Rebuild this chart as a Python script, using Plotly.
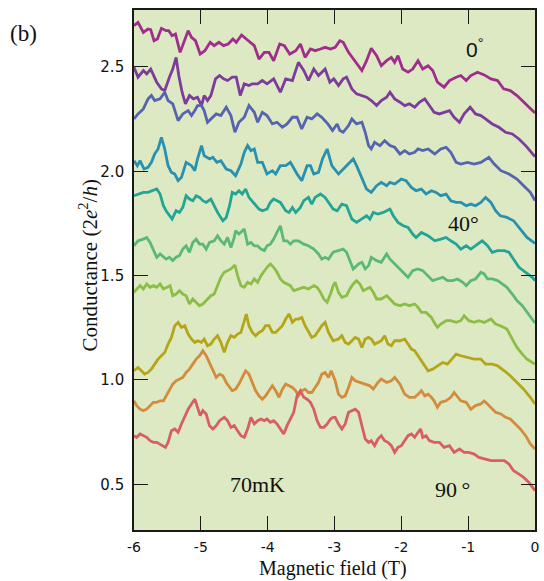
import plotly.graph_objects as go

# Conductance traces (field in T, conductance in 2e^2/h), from 0 deg (top) to 90 deg (bottom)
C1 = [(-6.00,2.698),(-5.94,2.714),(-5.86,2.666),(-5.79,2.682),(-5.75,2.679),(-5.70,2.626),(-5.65,2.634),(-5.59,2.685),(-5.52,2.674),(-5.48,2.674),(-5.43,2.650),(-5.38,2.658),(-5.31,2.570),(-5.26,2.618),(-5.19,2.674),(-5.14,2.642),(-5.08,2.626),(-5.01,2.562),(-4.94,2.578),(-4.86,2.618),(-4.80,2.602),(-4.73,2.618),(-4.66,2.602),(-4.59,2.610),(-4.52,2.634),(-4.47,2.618),(-4.39,2.653),(-4.32,2.634),(-4.20,2.602),(-4.13,2.538),(-4.05,2.570),(-3.98,2.570),(-3.91,2.530),(-3.82,2.610),(-3.75,2.602),(-3.67,2.562),(-3.58,2.578),(-3.51,2.610),(-3.44,2.546),(-3.36,2.586),(-3.29,2.578),(-3.21,2.586),(-3.14,2.594),(-3.06,2.586),(-2.99,2.594),(-2.92,2.626),(-2.87,2.618),(-2.79,2.570),(-2.72,2.538),(-2.64,2.506),(-2.59,2.483),(-2.52,2.530),(-2.45,2.590),(-2.37,2.554),(-2.30,2.506),(-2.22,2.530),(-2.15,2.546),(-2.10,2.522),(-2.05,2.554),(-1.98,2.490),(-1.90,2.475),(-1.83,2.490),(-1.75,2.530),(-1.68,2.490),(-1.60,2.506),(-1.53,2.483),(-1.46,2.427),(-1.36,2.403),(-1.28,2.435),(-1.18,2.451),(-1.11,2.459),(-1.03,2.435),(-0.96,2.459),(-0.86,2.475),(-0.76,2.462),(-0.66,2.443),(-0.56,2.435),(-0.47,2.395),(-0.37,2.387),(-0.27,2.363),(-0.17,2.331),(-0.05,2.291),(0.0,2.28)]
C2 = [(-6.00,2.499),(-5.94,2.451),(-5.86,2.483),(-5.81,2.467),(-5.75,2.490),(-5.66,2.427),(-5.59,2.395),(-5.54,2.387),(-5.47,2.451),(-5.42,2.490),(-5.37,2.546),(-5.33,2.459),(-5.28,2.379),(-5.23,2.323),(-5.17,2.363),(-5.11,2.347),(-5.05,2.355),(-4.99,2.315),(-4.95,2.363),(-4.90,2.339),(-4.85,2.363),(-4.78,2.443),(-4.72,2.459),(-4.66,2.443),(-4.60,2.435),(-4.53,2.451),(-4.47,2.451),(-4.41,2.363),(-4.35,2.419),(-4.28,2.411),(-4.23,2.419),(-4.15,2.419),(-4.08,2.435),(-4.01,2.419),(-3.91,2.443),(-3.81,2.379),(-3.73,2.443),(-3.63,2.435),(-3.54,2.522),(-3.46,2.483),(-3.39,2.435),(-3.31,2.490),(-3.24,2.459),(-3.14,2.490),(-3.07,2.427),(-3.01,2.443),(-2.94,2.411),(-2.87,2.443),(-2.82,2.451),(-2.74,2.395),(-2.67,2.371),(-2.59,2.363),(-2.52,2.355),(-2.45,2.339),(-2.37,2.315),(-2.30,2.339),(-2.22,2.355),(-2.17,2.379),(-2.10,2.347),(-2.02,2.331),(-1.95,2.315),(-1.88,2.323),(-1.80,2.307),(-1.73,2.331),(-1.65,2.347),(-1.58,2.315),(-1.51,2.283),(-1.43,2.275),(-1.36,2.283),(-1.28,2.291),(-1.21,2.259),(-1.13,2.235),(-1.06,2.275),(-0.97,2.307),(-0.89,2.275),(-0.81,2.267),(-0.74,2.251),(-0.64,2.227),(-0.54,2.211),(-0.44,2.187),(-0.34,2.179),(-0.24,2.155),(-0.14,2.123),(-0.02,2.075),(0.0,2.07)]
C3 = [(-6.00,2.251),(-5.94,2.275),(-5.86,2.299),(-5.79,2.347),(-5.74,2.363),(-5.69,2.339),(-5.61,2.347),(-5.54,2.379),(-5.49,2.339),(-5.42,2.323),(-5.34,2.243),(-5.27,2.275),(-5.19,2.291),(-5.14,2.267),(-5.09,2.291),(-5.05,2.315),(-4.99,2.315),(-4.95,2.291),(-4.90,2.235),(-4.85,2.251),(-4.77,2.275),(-4.70,2.267),(-4.62,2.307),(-4.55,2.267),(-4.49,2.187),(-4.43,2.235),(-4.35,2.259),(-4.28,2.315),(-4.20,2.283),(-4.15,2.235),(-4.08,2.283),(-4.01,2.267),(-3.93,2.227),(-3.86,2.235),(-3.78,2.211),(-3.71,2.227),(-3.63,2.259),(-3.56,2.259),(-3.49,2.203),(-3.41,2.259),(-3.34,2.251),(-3.26,2.275),(-3.19,2.259),(-3.10,2.227),(-3.03,2.195),(-2.96,2.227),(-2.92,2.195),(-2.87,2.187),(-2.79,2.219),(-2.74,2.251),(-2.67,2.227),(-2.59,2.235),(-2.54,2.187),(-2.49,2.123),(-2.45,2.107),(-2.40,2.139),(-2.32,2.123),(-2.25,2.147),(-2.17,2.123),(-2.10,2.115),(-2.02,2.083),(-1.95,2.099),(-1.88,2.083),(-1.80,2.091),(-1.75,2.107),(-1.68,2.099),(-1.60,2.107),(-1.50,2.083),(-1.41,2.107),(-1.33,2.115),(-1.26,2.091),(-1.18,2.043),(-1.11,2.035),(-1.01,2.043),(-0.91,2.035),(-0.81,2.043),(-0.74,2.059),(-0.69,2.067),(-0.61,2.035),(-0.51,2.003),(-0.39,1.987),(-0.27,1.963),(-0.17,1.931),(-0.07,1.899),(0.0,1.86)]
C4 = [(-6.00,2.051),(-5.95,2.027),(-5.91,2.051),(-5.85,2.011),(-5.79,2.019),(-5.74,2.043),(-5.69,2.083),(-5.64,2.107),(-5.59,2.163),(-5.54,2.107),(-5.49,2.027),(-5.44,1.995),(-5.39,1.987),(-5.34,1.955),(-5.29,1.971),(-5.22,2.043),(-5.14,2.027),(-5.09,2.003),(-5.05,2.059),(-4.99,2.123),(-4.95,2.075),(-4.87,2.059),(-4.82,2.067),(-4.76,2.043),(-4.70,2.051),(-4.62,2.011),(-4.55,2.003),(-4.48,1.979),(-4.40,2.035),(-4.35,2.091),(-4.30,2.123),(-4.25,2.099),(-4.20,2.107),(-4.15,2.043),(-4.08,2.043),(-4.01,1.987),(-3.93,2.003),(-3.88,1.987),(-3.81,2.027),(-3.73,2.027),(-3.66,2.043),(-3.61,2.011),(-3.56,1.987),(-3.49,1.955),(-3.41,2.027),(-3.36,2.027),(-3.31,1.987),(-3.24,1.995),(-3.18,2.059),(-3.11,2.107),(-3.04,2.027),(-2.94,1.987),(-2.87,2.011),(-2.79,2.035),(-2.72,2.059),(-2.67,2.027),(-2.59,1.963),(-2.52,1.915),(-2.45,1.899),(-2.37,1.931),(-2.30,1.947),(-2.22,1.931),(-2.17,1.947),(-2.10,1.939),(-2.00,1.963),(-1.93,1.955),(-1.85,1.923),(-1.78,1.907),(-1.70,1.915),(-1.63,1.891),(-1.55,1.907),(-1.48,1.899),(-1.41,1.883),(-1.33,1.891),(-1.26,1.859),(-1.18,1.851),(-1.11,1.851),(-1.03,1.835),(-0.96,1.843),(-0.89,1.835),(-0.81,1.851),(-0.74,1.875),(-0.66,1.851),(-0.59,1.811),(-0.52,1.787),(-0.42,1.779),(-0.32,1.763),(-0.22,1.723),(-0.12,1.683),(-0.02,1.659),(0.0,1.655)]
C5 = [(-6.00,1.883),(-5.94,1.891),(-5.86,1.899),(-5.79,1.899),(-5.71,1.907),(-5.66,1.915),(-5.61,1.891),(-5.56,1.835),(-5.52,1.811),(-5.47,1.787),(-5.43,1.771),(-5.37,1.811),(-5.32,1.803),(-5.27,1.827),(-5.22,1.883),(-5.17,1.867),(-5.12,1.859),(-5.07,1.883),(-5.02,1.875),(-4.97,1.859),(-4.92,1.851),(-4.85,1.867),(-4.80,1.835),(-4.75,1.803),(-4.67,1.763),(-4.62,1.779),(-4.57,1.835),(-4.53,1.899),(-4.48,1.891),(-4.43,1.907),(-4.38,1.891),(-4.33,1.915),(-4.28,1.875),(-4.20,1.843),(-4.13,1.819),(-4.08,1.811),(-4.01,1.819),(-3.96,1.851),(-3.91,1.867),(-3.86,1.859),(-3.81,1.851),(-3.73,1.811),(-3.68,1.803),(-3.63,1.827),(-3.58,1.803),(-3.51,1.827),(-3.46,1.859),(-3.39,1.875),(-3.34,1.843),(-3.29,1.875),(-3.21,1.891),(-3.14,1.875),(-3.09,1.851),(-3.02,1.819),(-2.96,1.811),(-2.89,1.843),(-2.82,1.835),(-2.74,1.771),(-2.67,1.755),(-2.59,1.771),(-2.52,1.787),(-2.47,1.771),(-2.42,1.803),(-2.35,1.795),(-2.27,1.803),(-2.17,1.819),(-2.12,1.787),(-2.05,1.755),(-1.97,1.739),(-1.90,1.731),(-1.83,1.699),(-1.78,1.683),(-1.70,1.707),(-1.60,1.691),(-1.50,1.667),(-1.41,1.675),(-1.33,1.683),(-1.26,1.667),(-1.18,1.651),(-1.11,1.627),(-1.03,1.643),(-0.96,1.627),(-0.89,1.643),(-0.79,1.667),(-0.71,1.643),(-0.64,1.612),(-0.56,1.620),(-0.46,1.620),(-0.39,1.612),(-0.32,1.579),(-0.24,1.540),(-0.14,1.516),(-0.04,1.492),(0.0,1.476)]
C6 = [(-6.00,1.643),(-5.94,1.667),(-5.86,1.675),(-5.81,1.683),(-5.76,1.659),(-5.71,1.620),(-5.66,1.588),(-5.61,1.604),(-5.56,1.588),(-5.52,1.579),(-5.47,1.588),(-5.42,1.572),(-5.37,1.588),(-5.32,1.596),(-5.27,1.627),(-5.22,1.643),(-5.17,1.612),(-5.12,1.659),(-5.07,1.675),(-5.02,1.651),(-4.97,1.651),(-4.92,1.627),(-4.87,1.659),(-4.80,1.667),(-4.75,1.691),(-4.70,1.667),(-4.65,1.651),(-4.60,1.683),(-4.55,1.635),(-4.50,1.683),(-4.48,1.715),(-4.43,1.699),(-4.35,1.723),(-4.30,1.651),(-4.25,1.659),(-4.20,1.643),(-4.15,1.643),(-4.10,1.627),(-4.05,1.620),(-4.01,1.643),(-3.96,1.651),(-3.91,1.675),(-3.86,1.707),(-3.81,1.739),(-3.76,1.667),(-3.71,1.667),(-3.66,1.651),(-3.61,1.667),(-3.54,1.667),(-3.46,1.651),(-3.39,1.643),(-3.31,1.627),(-3.24,1.604),(-3.19,1.579),(-3.14,1.588),(-3.09,1.579),(-3.02,1.612),(-2.94,1.620),(-2.87,1.627),(-2.82,1.612),(-2.77,1.572),(-2.72,1.532),(-2.64,1.556),(-2.59,1.564),(-2.54,1.532),(-2.49,1.548),(-2.45,1.588),(-2.37,1.572),(-2.30,1.564),(-2.22,1.604),(-2.17,1.579),(-2.10,1.556),(-2.02,1.532),(-1.95,1.508),(-1.90,1.492),(-1.83,1.524),(-1.75,1.532),(-1.68,1.524),(-1.60,1.500),(-1.53,1.476),(-1.46,1.484),(-1.38,1.492),(-1.31,1.476),(-1.23,1.476),(-1.16,1.484),(-1.08,1.468),(-1.03,1.452),(-0.96,1.476),(-0.89,1.484),(-0.81,1.516),(-0.76,1.508),(-0.71,1.484),(-0.64,1.484),(-0.56,1.476),(-0.49,1.460),(-0.42,1.444),(-0.34,1.412),(-0.27,1.380),(-0.19,1.356),(-0.12,1.324),(-0.04,1.292),(0.0,1.273)]
C7 = [(-6.00,1.420),(-5.96,1.436),(-5.91,1.452),(-5.86,1.436),(-5.81,1.460),(-5.76,1.444),(-5.71,1.452),(-5.66,1.444),(-5.61,1.460),(-5.56,1.436),(-5.52,1.444),(-5.46,1.452),(-5.42,1.404),(-5.37,1.412),(-5.32,1.428),(-5.27,1.412),(-5.22,1.404),(-5.17,1.364),(-5.12,1.388),(-5.07,1.372),(-5.02,1.356),(-4.97,1.364),(-4.90,1.388),(-4.85,1.404),(-4.80,1.412),(-4.75,1.452),(-4.70,1.492),(-4.65,1.516),(-4.60,1.524),(-4.55,1.532),(-4.49,1.551),(-4.45,1.500),(-4.40,1.452),(-4.35,1.444),(-4.30,1.468),(-4.25,1.460),(-4.20,1.484),(-4.15,1.468),(-4.10,1.500),(-4.05,1.524),(-4.01,1.540),(-3.96,1.556),(-3.91,1.540),(-3.86,1.516),(-3.81,1.484),(-3.76,1.468),(-3.71,1.460),(-3.66,1.452),(-3.61,1.428),(-3.54,1.436),(-3.46,1.444),(-3.39,1.436),(-3.31,1.452),(-3.26,1.444),(-3.21,1.420),(-3.16,1.388),(-3.11,1.372),(-3.06,1.412),(-3.02,1.452),(-2.99,1.468),(-2.94,1.420),(-2.89,1.396),(-2.82,1.404),(-2.77,1.436),(-2.72,1.460),(-2.67,1.476),(-2.62,1.460),(-2.57,1.428),(-2.52,1.436),(-2.47,1.444),(-2.42,1.420),(-2.37,1.388),(-2.30,1.388),(-2.22,1.404),(-2.17,1.388),(-2.10,1.364),(-2.02,1.356),(-1.95,1.364),(-1.88,1.356),(-1.80,1.364),(-1.75,1.348),(-1.70,1.324),(-1.63,1.324),(-1.55,1.300),(-1.51,1.276),(-1.46,1.252),(-1.41,1.268),(-1.33,1.284),(-1.26,1.284),(-1.18,1.276),(-1.11,1.284),(-1.06,1.308),(-0.99,1.284),(-0.91,1.276),(-0.84,1.284),(-0.76,1.276),(-0.66,1.292),(-0.59,1.268),(-0.52,1.260),(-0.42,1.244),(-0.34,1.196),(-0.27,1.156),(-0.19,1.124),(-0.12,1.100),(-0.04,1.084),(0.0,1.076)]
C8 = [(-6.00,1.044),(-5.94,1.060),(-5.89,1.044),(-5.84,1.028),(-5.79,1.036),(-5.74,1.052),(-5.69,1.076),(-5.64,1.100),(-5.59,1.116),(-5.54,1.132),(-5.49,1.172),(-5.44,1.204),(-5.39,1.260),(-5.34,1.276),(-5.29,1.252),(-5.24,1.260),(-5.19,1.220),(-5.14,1.196),(-5.09,1.180),(-5.05,1.188),(-4.99,1.180),(-4.95,1.196),(-4.90,1.164),(-4.85,1.172),(-4.80,1.196),(-4.75,1.212),(-4.70,1.180),(-4.65,1.132),(-4.60,1.180),(-4.55,1.212),(-4.50,1.204),(-4.45,1.220),(-4.40,1.228),(-4.35,1.292),(-4.32,1.316),(-4.28,1.260),(-4.23,1.228),(-4.18,1.212),(-4.13,1.228),(-4.08,1.236),(-4.03,1.260),(-3.98,1.260),(-3.93,1.228),(-3.88,1.228),(-3.83,1.244),(-3.78,1.260),(-3.73,1.292),(-3.68,1.316),(-3.63,1.276),(-3.58,1.292),(-3.54,1.292),(-3.49,1.300),(-3.44,1.260),(-3.39,1.228),(-3.34,1.204),(-3.29,1.212),(-3.24,1.236),(-3.19,1.260),(-3.14,1.276),(-3.09,1.228),(-3.02,1.188),(-2.94,1.196),(-2.89,1.212),(-2.84,1.180),(-2.79,1.172),(-2.74,1.188),(-2.69,1.204),(-2.64,1.196),(-2.59,1.156),(-2.54,1.196),(-2.49,1.204),(-2.45,1.196),(-2.40,1.172),(-2.35,1.180),(-2.30,1.188),(-2.25,1.212),(-2.20,1.172),(-2.15,1.164),(-2.10,1.188),(-2.02,1.188),(-1.95,1.196),(-1.90,1.172),(-1.85,1.148),(-1.80,1.140),(-1.75,1.116),(-1.68,1.084),(-1.60,1.044),(-1.53,1.052),(-1.46,1.068),(-1.38,1.084),(-1.31,1.076),(-1.23,1.108),(-1.18,1.124),(-1.11,1.116),(-1.01,1.108),(-0.91,1.100),(-0.81,1.100),(-0.74,1.076),(-0.64,1.076),(-0.56,1.068),(-0.46,1.044),(-0.37,1.020),(-0.27,0.988),(-0.17,0.956),(-0.07,0.917),(0.0,0.885)]
C9 = [(-6.00,0.900),(-5.96,0.877),(-5.91,0.860),(-5.86,0.853),(-5.81,0.860),(-5.76,0.877),(-5.71,0.893),(-5.66,0.893),(-5.61,0.900),(-5.56,0.900),(-5.52,0.924),(-5.47,0.956),(-5.42,0.980),(-5.37,0.996),(-5.32,1.004),(-5.27,1.012),(-5.22,1.036),(-5.17,1.052),(-5.12,1.076),(-5.07,1.100),(-5.02,1.116),(-4.97,1.140),(-4.92,1.116),(-4.87,1.084),(-4.82,1.044),(-4.77,1.012),(-4.72,1.028),(-4.67,1.020),(-4.62,0.988),(-4.57,0.964),(-4.53,0.948),(-4.48,0.956),(-4.43,0.980),(-4.38,1.012),(-4.33,1.044),(-4.28,1.028),(-4.23,0.988),(-4.18,0.948),(-4.13,0.924),(-4.08,0.908),(-4.03,0.924),(-3.98,0.948),(-3.93,0.972),(-3.88,0.948),(-3.83,0.917),(-3.78,0.956),(-3.73,0.980),(-3.68,0.972),(-3.63,0.964),(-3.58,0.948),(-3.54,0.924),(-3.49,0.948),(-3.44,0.956),(-3.39,0.940),(-3.34,0.940),(-3.29,0.964),(-3.24,0.988),(-3.19,1.028),(-3.14,1.036),(-3.09,1.012),(-3.05,1.044),(-2.99,0.996),(-2.94,0.932),(-2.89,0.917),(-2.84,0.924),(-2.79,0.964),(-2.74,1.012),(-2.69,0.996),(-2.62,0.988),(-2.54,0.980),(-2.47,0.972),(-2.42,0.956),(-2.35,0.988),(-2.30,1.004),(-2.22,0.988),(-2.15,0.996),(-2.10,1.012),(-2.02,0.980),(-1.95,0.932),(-1.88,0.917),(-1.80,0.917),(-1.75,0.932),(-1.70,0.948),(-1.65,0.924),(-1.60,0.932),(-1.55,0.917),(-1.51,0.900),(-1.46,0.869),(-1.41,0.893),(-1.33,0.900),(-1.26,0.917),(-1.21,0.940),(-1.16,0.917),(-1.11,0.900),(-1.03,0.893),(-0.96,0.860),(-0.89,0.877),(-0.81,0.885),(-0.76,0.900),(-0.71,0.885),(-0.66,0.869),(-0.59,0.845),(-0.51,0.837),(-0.44,0.821),(-0.37,0.813),(-0.29,0.789),(-0.22,0.765),(-0.14,0.733),(-0.07,0.693),(0.0,0.669)]
C10 = [(-6.00,0.733),(-5.96,0.725),(-5.91,0.741),(-5.86,0.733),(-5.81,0.725),(-5.76,0.709),(-5.71,0.701),(-5.66,0.701),(-5.61,0.693),(-5.56,0.685),(-5.53,0.677),(-5.49,0.701),(-5.44,0.757),(-5.39,0.765),(-5.34,0.749),(-5.29,0.789),(-5.24,0.829),(-5.19,0.860),(-5.14,0.885),(-5.09,0.908),(-5.05,0.869),(-5.01,0.829),(-4.97,0.853),(-4.92,0.837),(-4.87,0.781),(-4.82,0.765),(-4.77,0.781),(-4.72,0.805),(-4.65,0.821),(-4.60,0.805),(-4.55,0.773),(-4.50,0.781),(-4.45,0.757),(-4.40,0.733),(-4.35,0.725),(-4.30,0.765),(-4.25,0.821),(-4.20,0.789),(-4.15,0.805),(-4.10,0.813),(-4.05,0.805),(-4.01,0.813),(-3.96,0.797),(-3.91,0.805),(-3.86,0.789),(-3.81,0.765),(-3.76,0.741),(-3.71,0.781),(-3.66,0.813),(-3.61,0.845),(-3.56,0.924),(-3.51,0.948),(-3.46,0.917),(-3.41,0.908),(-3.36,0.893),(-3.31,0.860),(-3.26,0.805),(-3.21,0.773),(-3.16,0.773),(-3.11,0.789),(-3.06,0.813),(-3.02,0.821),(-2.99,0.821),(-2.94,0.789),(-2.89,0.765),(-2.84,0.789),(-2.79,0.845),(-2.74,0.853),(-2.69,0.860),(-2.64,0.845),(-2.59,0.781),(-2.54,0.717),(-2.49,0.701),(-2.45,0.709),(-2.40,0.685),(-2.35,0.717),(-2.30,0.733),(-2.25,0.709),(-2.20,0.701),(-2.15,0.685),(-2.10,0.653),(-2.05,0.677),(-2.00,0.685),(-1.95,0.709),(-1.90,0.733),(-1.85,0.741),(-1.80,0.725),(-1.75,0.749),(-1.71,0.765),(-1.68,0.725),(-1.63,0.733),(-1.58,0.709),(-1.51,0.701),(-1.43,0.701),(-1.36,0.677),(-1.28,0.685),(-1.21,0.653),(-1.13,0.669),(-1.06,0.653),(-0.99,0.653),(-0.91,0.645),(-0.84,0.629),(-0.76,0.621),(-0.66,0.613),(-0.56,0.613),(-0.46,0.613),(-0.39,0.597),(-0.32,0.565),(-0.24,0.549),(-0.17,0.533),(-0.09,0.509),(-0.02,0.477),(0.0,0.47)]

CURVES = [C1, C2, C3, C4, C5, C6, C7, C8, C9, C10]
COLORS = ["#A02D8C", "#7D3C9B", "#5564AF", "#2891AF", "#23A596",
          "#5AB978", "#8CBE46", "#B4A519", "#D28C3C", "#D75F64"]

X_TICKS = [-6, -5, -4, -3, -2, -1, 0]
Y_TICKS = [0.5, 1.0, 1.5, 2.0, 2.5]

fig = go.Figure()
for pts, col in zip(CURVES, COLORS):
    fig.add_trace(go.Scatter(
        x=[p[0] for p in pts], y=[p[1] for p in pts], mode="lines",
        line=dict(color=col, width=2.8), showlegend=False, hoverinfo="skip"))

serif = "Liberation Serif, Times New Roman, serif"
sans = "DejaVu Sans, Arial, sans-serif"

axis_common = dict(showline=True, linecolor="#1a1a1a", linewidth=1.6, mirror="ticks",
                   ticks="inside", ticklen=14, tickwidth=1.4, tickcolor="#1a1a1a",
                   showgrid=False, zeroline=False)

fig.update_xaxes(range=[-6, 0], tickvals=X_TICKS, ticktext=[str(v) for v in X_TICKS],
                 ticklabelstandoff=3, tickfont=dict(family=sans, size=14, color="#111"),
                 **axis_common)
fig.update_yaxes(range=[0.281, 2.773], tickvals=Y_TICKS, ticktext=[f"{v:.1f}" for v in Y_TICKS],
                 ticklabelstandoff=5, tickfont=dict(family=sans, size=15, color="#111"),
                 **axis_common)

ann = []
ann.append(dict(xref="paper", yref="paper", x=0.496, y=-0.074, text="Magnetic field (T)",
                showarrow=False, xanchor="center", yanchor="middle",
                font=dict(family=serif, size=20, color="#111")))
ann.append(dict(xref="paper", yref="paper", x=-0.1136, y=0.5096,
                text="Conductance (2<i>e</i><sup>2</sup>/<i>h</i>)", textangle=-90,
                showarrow=False, xanchor="center", yanchor="middle",
                font=dict(family=serif, size=21, color="#111")))
ann.append(dict(xref="paper", yref="paper", x=-0.2765, y=0.955, text="(b)",
                showarrow=False, xanchor="center", yanchor="middle",
                font=dict(family=serif, size=23, color="#111")))
ann.append(dict(xref="x", yref="y", x=-0.896, y=2.59, text="0<sup>°</sup>",
                showarrow=False, xanchor="center", yanchor="middle",
                font=dict(family="Liberation Sans, Arial, sans-serif", size=21, color="#111")))
ann.append(dict(xref="x", yref="y", x=-1.074, y=1.752, text="40°",
                showarrow=False, xanchor="center", yanchor="middle",
                font=dict(family=serif, size=22, color="#111")))
ann.append(dict(xref="x", yref="y", x=-1.237, y=0.473, text="90\u2009°",
                showarrow=False, xanchor="center", yanchor="middle",
                font=dict(family=serif, size=22, color="#111")))
ann.append(dict(xref="x", yref="y", x=-4.145, y=0.497, text="70mK",
                showarrow=False, xanchor="center", yanchor="middle",
                font=dict(family=serif, size=22, color="#111")))

fig.update_layout(width=544, height=581, margin=dict(l=134, r=5, t=10, b=51),
                  paper_bgcolor="white", plot_bgcolor="#dde9c3",
                  annotations=ann, showlegend=False)

fig.write_html("out.html")
